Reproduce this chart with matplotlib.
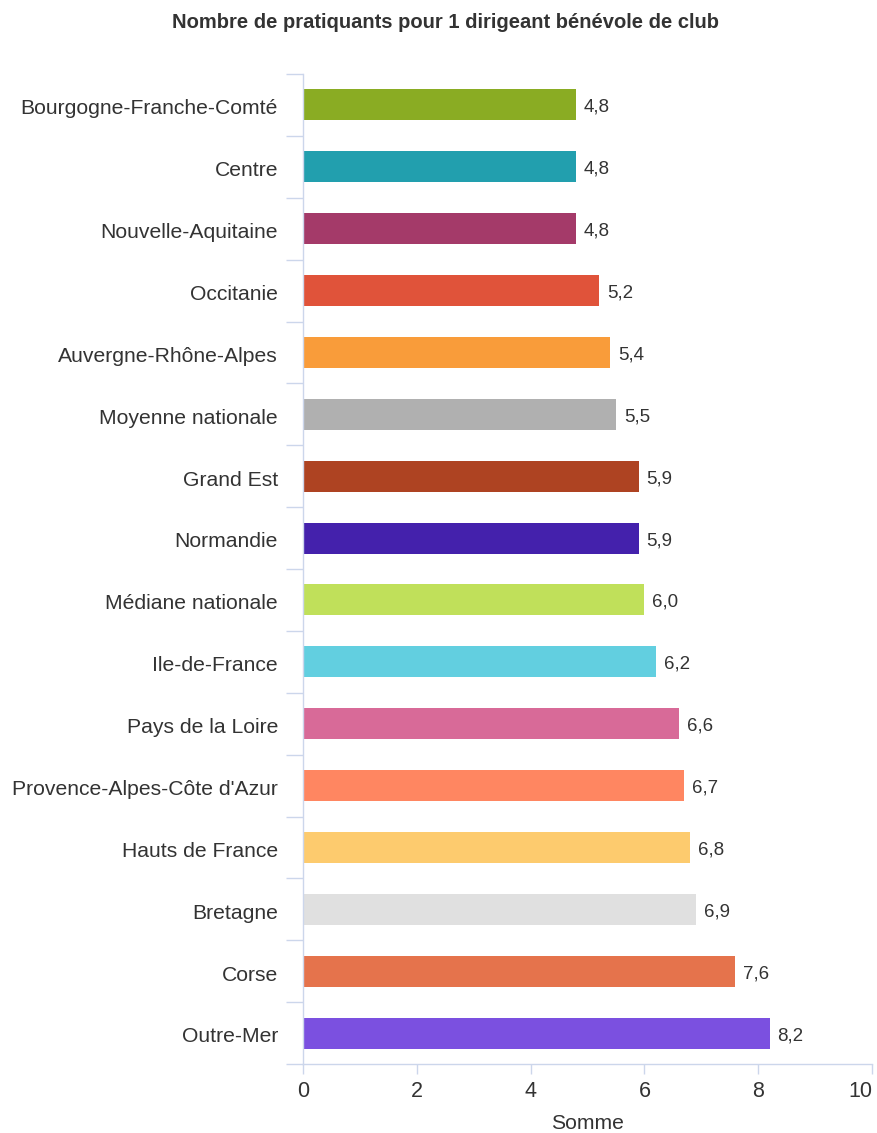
import matplotlib.pyplot as plt
import numpy as np

regions = ["Bourgogne-Franche-Comté", "Centre", "Nouvelle-Aquitaine", "Occitanie",
           "Auvergne-Rhône-Alpes", "Moyenne nationale", "Grand Est", "Normandie",
           "Médiane nationale", "Ile-de-France", "Pays de la Loire",
           "Provence-Alpes-Côte d'Azur", "Hauts de France", "Bretagne", "Corse", "Outre-Mer"]
values = [4.8, 4.8, 4.8, 5.2, 5.4, 5.5, 5.9, 5.9, 6.0, 6.2, 6.6, 6.7, 6.8, 6.9, 7.6, 8.2]
colors = ["#8aac23", "#229fae", "#a43a69", "#e0533a", "#f99c3a", "#b0b0b0", "#ae4322",
          "#4421ac", "#c0e05a", "#62cfe0", "#d86a98", "#ff8661", "#fdcb6e", "#e0e0e0",
          "#e5734c", "#7b50e0"]

plt.rcParams['font.family'] = ['Liberation Sans', 'DejaVu Sans']
axis_col = "#ccd6eb"
txt_col = "#333333"

fig = plt.figure(figsize=(8.78, 11.33), dpi=100)
ax = fig.add_axes([303 / 878, 1 - 1064 / 1133, 569 / 878, 990 / 1133])

y = np.arange(len(regions))
ax.barh(y, values, height=0.5, color=colors)
ax.set_ylim(len(regions) - 0.5, -0.5)
ax.set_xlim(0, 10)

for yi, v in zip(y, values):
    ax.text(v + 0.14, yi + 0.04, f"{v:.1f}".replace(".", ","), va="center", ha="left",
            fontsize=13.5, color=txt_col)

# category labels, ticks between categories
ax.set_yticks(y + 0.03)
ax.set_yticklabels(regions, fontsize=15.2, color=txt_col)
ax.tick_params(axis="y", length=0, pad=18)
ax.set_yticks(np.arange(-0.5, len(regions)), minor=True)
ax.tick_params(axis="y", which="minor", length=12, width=1, color=axis_col)

ax.set_xticks([0, 2, 4, 6, 8, 10])
ax.tick_params(axis="x", length=7, width=1, color=axis_col, labelsize=15.5,
               labelcolor=txt_col, pad=5)
ax.get_xticklabels()[-1].set_horizontalalignment("right")
ax.set_xlabel("Somme", fontsize=15.2, color=txt_col, labelpad=9)

for s in ["top", "right"]:
    ax.spines[s].set_visible(False)
for s in ["left", "bottom"]:
    ax.spines[s].set_color(axis_col)
    ax.spines[s].set_linewidth(1)

fig.text(446 / 878, 1 - 22 / 1133, "Nombre de pratiquants pour 1 dirigeant bénévole de club",
         ha="center", va="center", fontsize=14.5, fontweight="bold", color=txt_col)

fig.savefig("out.png", dpi=100)
